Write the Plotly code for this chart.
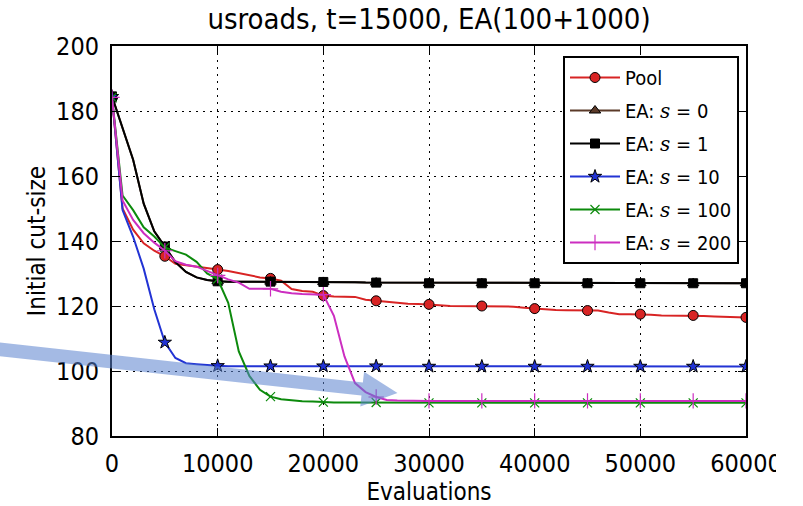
import plotly.graph_objects as go

# Evaluations sampled every 1000 steps; markers every 5000
evaluations = list(range(0, 60001, 1000))
MARK_EVERY = 5

pool = [184.0, 150.0, 143.5, 139.3, 137.0, 135.3, 133.0, 132.5, 132.1, 131.6,
        131.2, 130.8, 130.2, 129.5, 128.8, 128.5, 127.8, 125.2, 124.6, 124.4,
        123.2, 122.9, 122.9, 122.8, 121.9, 121.6, 121.2, 120.8, 120.7, 120.6,
        120.5, 120.2, 120.0, 120.0, 120.0, 120.0, 119.9, 119.9, 119.8, 119.5,
        119.2, 119.0, 118.8, 118.7, 118.6, 118.6, 118.6, 118.0, 117.5, 117.5,
        117.5, 117.3, 117.1, 117.1, 117.1, 117.1, 116.9, 116.8, 116.7, 116.6,
        116.5]

ea_s1 = [184.5, 174.5, 165.0, 151.5, 143.0, 138.3, 133.5, 130.5, 128.8, 128.0,
         127.6, 127.5, 127.5, 127.5, 127.5, 127.5, 127.5, 127.5, 127.4, 127.4,
         127.4, 127.3, 127.3, 127.3, 127.2, 127.2, 127.2, 127.1, 127.1, 127.1,
         127.0, 127.0, 127.0, 127.0, 127.0, 127.0, 127.0, 127.0, 127.0, 127.0,
         127.0, 127.0, 127.0, 127.0, 127.0, 127.0, 127.0, 127.0, 127.0, 127.0,
         127.0, 127.0, 127.0, 127.0, 127.0, 127.0, 127.0, 127.0, 127.0, 127.0,
         127.0]

# s = 0 follows the s = 1 run exactly
ea_s0 = list(ea_s1)

ea_s10 = [184.4, 149.5, 141.3, 131.5, 119.0, 108.8, 104.0, 102.4, 102.1, 101.8,
          101.6, 101.5, 101.5, 101.5, 101.5, 101.5, 101.5, 101.5, 101.5, 101.5,
          101.5, 101.5, 101.5, 101.5, 101.5, 101.5, 101.5, 101.5, 101.5, 101.5,
          101.4, 101.4, 101.4, 101.4, 101.4, 101.4, 101.4, 101.4, 101.4, 101.4,
          101.4, 101.4, 101.4, 101.4, 101.4, 101.4, 101.4, 101.4, 101.4, 101.4,
          101.4, 101.4, 101.4, 101.4, 101.4, 101.4, 101.4, 101.4, 101.4, 101.4,
          101.4]

ea_s100 = [184.2, 154.0, 149.5, 144.2, 141.4, 138.0, 136.9, 135.8, 133.6, 130.0,
           128.3, 121.0, 106.0, 98.5, 94.2, 92.1, 91.3, 90.9, 90.7, 90.6,
           90.4, 90.3, 90.3, 90.3, 90.3, 90.3, 90.3, 90.3, 90.3, 90.3,
           90.2, 90.2, 90.2, 90.2, 90.2, 90.2, 90.2, 90.2, 90.2, 90.2,
           90.2, 90.2, 90.2, 90.2, 90.2, 90.2, 90.2, 90.2, 90.2, 90.2,
           90.2, 90.2, 90.2, 90.2, 90.2, 90.2, 90.2, 90.2, 90.2, 90.2,
           90.2]

ea_s200 = [184.2, 152.5, 146.5, 142.4, 139.5, 137.0, 133.8, 132.7, 132.1, 130.8,
           129.4, 128.2, 127.2, 125.3, 125.3, 125.3, 124.4, 123.9, 123.7, 123.6,
           123.5, 117.0, 104.5, 96.3, 93.5, 92.0, 91.1, 90.9, 90.8, 90.8,
           90.8, 90.8, 90.8, 90.8, 90.8, 90.8, 90.8, 90.8, 90.8, 90.8,
           90.8, 90.8, 90.8, 90.8, 90.8, 90.8, 90.8, 90.8, 90.8, 90.8,
           90.8, 90.8, 90.8, 90.8, 90.8, 90.8, 90.8, 90.8, 90.8, 90.8,
           90.8]

x_ticks = [0, 10000, 20000, 30000, 40000, 50000, 60000]
y_ticks = [80, 100, 120, 140, 160, 180, 200]

FONT = "DejaVu Sans Condensed, DejaVu Sans, sans-serif"
S = "<span style='font-family:DejaVu Serif'><i>s</i></span>"

series = [
    # name, values, colour, symbol, size, edge colour, edge width
    ("Pool", pool, "#d82424", "circle", 10, "black", 1),
    (f"EA: {S} = 0", ea_s0, "#5b3a29", "triangle-up", 10, "black", 1),
    (f"EA: {S} = 1", ea_s1, "#000000", "square", 9, "black", 1),
    (f"EA: {S} = 10", ea_s10, "#2233d4", "star", 10, "black", 1),
    (f"EA: {S} = 100", ea_s100, "#0c8a0c", "x-thin", 9, "#0c8a0c", 1.2),
    (f"EA: {S} = 200", ea_s200, "#cc2ec0", "cross-thin", 11, "#cc2ec0", 1.2),
]


def every_nth_with_gaps(values, n):
    """Keep every n-th sample, separated by gaps so no segments get drawn."""
    out = []
    for i, v in enumerate(values):
        if i % n == 0:
            if out:
                out.append(None)
            out.append(v)
    return out


fig = go.Figure()
mark_x = every_nth_with_gaps(evaluations, MARK_EVERY)
for name, ys, color, symbol, msize, edge, ew in series:
    # full-resolution curve
    fig.add_trace(go.Scatter(
        x=evaluations, y=ys, mode="lines", showlegend=False, legendgroup=name,
        line=dict(color=color, width=2), hoverinfo="skip",
    ))
    # markers at every 5000 evaluations (also provides the legend entry)
    fig.add_trace(go.Scatter(
        x=mark_x, y=every_nth_with_gaps(ys, MARK_EVERY), name=name, legendgroup=name,
        mode="lines+markers", connectgaps=False,
        line=dict(color=color, width=2),
        marker=dict(symbol=symbol, color=color, size=msize,
                    line=dict(color=edge, width=ew)),
    ))

# Plot area in pixels (used for the highlight arrow drawn in paper space)
L, R, T, B = 112, 746, 46, 436


def px(xp, yp):
    return (xp - L) / (R - L), (B - yp) / (B - T)


arrow_px = [(-5, 342.0), (362.9, 382.6), (364.1, 371.7), (397.5, 393.0),
            (360.3, 406.5), (361.5, 395.6), (-5, 355.8)]
arrow_path = "M " + " L ".join(f"{a:.4f},{b:.4f}" for a, b in (px(*p) for p in arrow_px)) + " Z"

fig.add_shape(type="path", path=arrow_path, xref="paper", yref="paper",
              fillcolor="rgba(90,130,205,0.55)", line=dict(width=0), layer="above")

# white strip at the right edge of the canvas
x0p, _ = px(776, 0)
x1p, _ = px(810, 0)
_, y0p = px(0, 480)
_, y1p = px(0, 439)
fig.add_shape(type="rect", xref="paper", yref="paper", x0=x0p, x1=x1p, y0=y0p, y1=y1p,
              fillcolor="white", line=dict(width=0), layer="above")

axis_common = dict(
    showline=True, linecolor="black", linewidth=2, mirror="ticks",
    ticks="inside", ticklen=8, tickwidth=1, tickcolor="black",
    showgrid=True, gridcolor="black", gridwidth=1, griddash="2px,5px",
    zeroline=False, automargin=False,
    tickfont=dict(family=FONT, size=25, color="black"),
)

fig.update_xaxes(range=[0, 60000], tickvals=x_ticks, ticktext=[str(v) for v in x_ticks],
                 title=dict(text="Evaluations", font=dict(family=FONT, size=24, color="black"),
                            standoff=10),
                 ticklabelstandoff=4, **axis_common)
fig.update_yaxes(range=[80, 200], tickvals=y_ticks, ticktext=[str(v) for v in y_ticks],
                 title=dict(text="Initial cut-size", font=dict(family=FONT, size=24, color="black"),
                            standoff=4),
                 ticklabelstandoff=6, **axis_common)

fig.update_layout(
    width=803, height=506,
    margin=dict(l=L, r=803 - R, t=T, b=506 - B),
    paper_bgcolor="white", plot_bgcolor="white",
    title=dict(text="usroads, t=15000, EA(100+1000)", x=0.5, xref="paper",
               y=1 - 19 / 506, yref="container", yanchor="middle",
               font=dict(family=FONT, size=29, color="black")),
    font=dict(family=FONT, color="black"),
    showlegend=True,
    legend=dict(x=px(563, 0)[0], y=px(0, 56)[1], xanchor="left", yanchor="top",
                bgcolor="white", bordercolor="black", borderwidth=2,
                font=dict(family=FONT, size=20, color="black"),
                itemwidth=50, traceorder="grouped", tracegroupgap=4),
)

fig.write_html("out.html")
